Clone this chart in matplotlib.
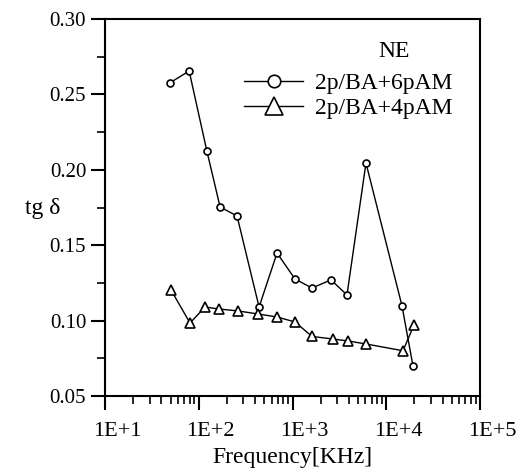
import matplotlib
matplotlib.use("Agg")
from matplotlib import pyplot as plt
from matplotlib import transforms
from matplotlib.ticker import MultipleLocator, FixedLocator, LogLocator, NullFormatter

# frequency [KHz] and tg delta
freq_6pam = [49, 79, 122, 169, 256, 440, 684, 1063, 1614, 2574, 3811, 6078, 14730, 19270]
tg_6pam = [0.2576, 0.2655, 0.2125, 0.1753, 0.1694, 0.109, 0.1448, 0.1276, 0.1216, 0.127, 0.117, 0.2045, 0.1097, 0.070]

freq_4pam = [50.6, 80.7, 116.6, 164, 262, 429, 684, 1063, 1614, 2690, 3908, 6078, 15100, 19770]
tg_4pam = [0.1203, 0.0984, 0.109, 0.1077, 0.1064, 0.1044, 0.1024, 0.0991, 0.0895, 0.0878, 0.0865, 0.0845, 0.080, 0.0971]

x_ticks = [1e1, 1e2, 1e3, 1e4, 1e5]
x_tick_labels = ["1E+1", "1E+2", "1E+3", "1E+4", "1E+5"]
y_ticks = [0.05, 0.10, 0.15, 0.20, 0.25, 0.30]

plt.rcParams["font.family"] = ["Liberation Serif", "DejaVu Serif"]

fig = plt.figure(figsize=(5.29, 4.71), dpi=100)
ax = fig.add_axes([105 / 529, 1 - 396 / 471, (480 - 105) / 529, (396 - 19) / 471])

ax.plot(freq_6pam, tg_6pam, color="black", linewidth=1, marker="o", markersize=5,
        markerfacecolor="white", markeredgecolor="black", markeredgewidth=1.2,
        label="2p/BA+6pAM")
ax.plot(freq_4pam, tg_4pam, color="black", linewidth=1, marker="^", markersize=7,
        markerfacecolor="white", markeredgecolor="black", markeredgewidth=1.2,
        label="2p/BA+4pAM")

ax.set_xscale("log")
ax.set_xlim(10, 1e5)
ax.set_ylim(0.05, 0.30)

ax.xaxis.set_major_locator(FixedLocator(x_ticks))
ax.set_xticklabels(x_tick_labels)
ax.xaxis.set_minor_locator(LogLocator(base=10, subs=range(2, 10)))
ax.xaxis.set_minor_formatter(NullFormatter())

ax.yaxis.set_major_locator(FixedLocator(y_ticks))
ax.set_yticklabels(["%.2f" % v for v in y_ticks])
ax.yaxis.set_minor_locator(MultipleLocator(0.025))

ax.tick_params(axis="both", which="major", direction="out", length=10, width=1.5, labelsize=15)
ax.tick_params(axis="both", which="minor", direction="out", length=6, width=1.2)
ax.tick_params(axis="x", which="major", pad=9, labelsize=16)
for s in ax.spines.values():
    s.set_linewidth(1.5)

# x labels sit a bit right of their ticks in the original
shift = transforms.ScaledTranslation(12 / 100, 0, fig.dpi_scale_trans)
for lbl in ax.get_xticklabels():
    lbl.set_transform(lbl.get_transform() + shift)

ax.set_xlabel("Frequency[KHz]", fontsize=17, labelpad=4)
ax.set_ylabel("tg δ", fontsize=17, rotation=0)
ax.yaxis.set_label_coords(-0.165, 0.47)

ax.text(0.77, 0.915, "NE", transform=ax.transAxes, fontsize=17, ha="center", va="center")
ax.legend(loc="upper left", bbox_to_anchor=(0.34, 0.889), frameon=False,
          fontsize=17, handlelength=2.5, handletextpad=0.5,
          labelspacing=0.15, borderpad=0, markerscale=1.8)

fig.savefig("out.png", dpi=100)
